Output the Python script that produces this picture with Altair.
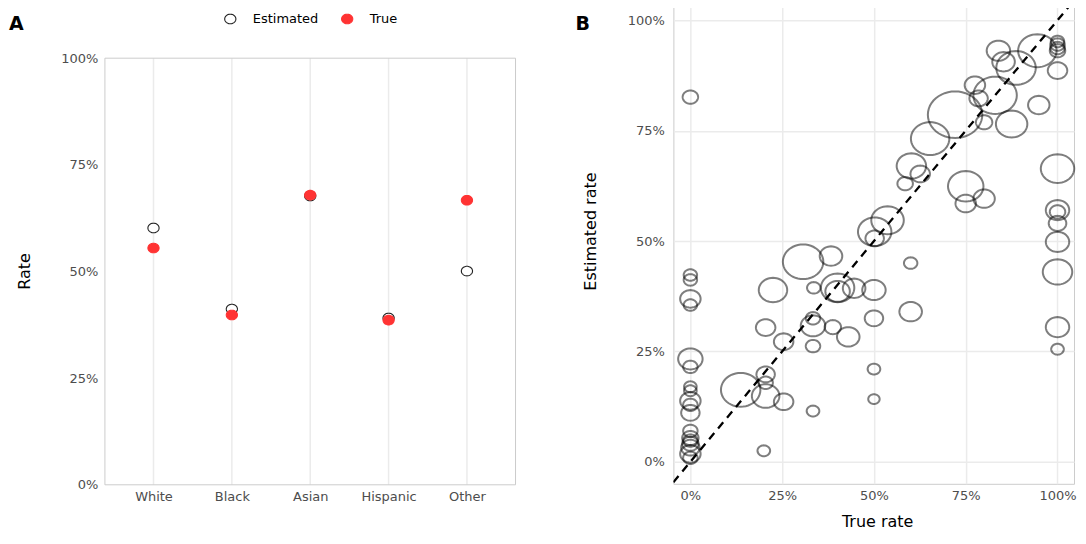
import math
import altair as alt
import pandas as pd

# ---------------- data ----------------
races = ["White", "Black", "Asian", "Hispanic", "Other"]
est_by_race = [0.602, 0.412, 0.677, 0.391, 0.501]
true_by_race = [0.555, 0.398, 0.679, 0.386, 0.667]

true_rate = [0, 0, 0, 0, 0, 0, 0, 0, 0, 0, 0, 0, 0, 0, 0, 0, 0, 0, 0,
             0.137, 0.205, 0.205, 0.205, 0.254, 0.200, 0.334, 0.500, 0.500, 1.0, 1.0,
             0.205, 0.254, 0.334, 0.334, 0.334, 0.388, 0.430, 0.307, 0.383, 0.225,
             0.336, 0.401, 0.401, 0.446, 0.500, 0.600, 0.600, 0.500, 0.602, 0.626,
             0.585, 0.750, 0.750, 0.800, 0.537, 0.502, 0.502, 1.0, 1.0, 1.0,
             1.0, 1.0, 1.0, 0.945, 1.0, 1.0, 1.0, 1.0, 1.0, 0.839,
             0.853, 0.887, 0.775, 0.830, 0.785, 0.721, 0.949, 0.800, 0.875, 0.653]
est_rate = [0.826, 0.423, 0.412, 0.369, 0.355, 0.233, 0.215, 0.170, 0.161, 0.138,
            0.129, 0.111, 0.070, 0.054, 0.048, 0.041, 0.032, 0.018, 0.009,
            0.163, 0.198, 0.179, 0.149, 0.136, 0.025, 0.115, 0.210, 0.142, 0.305, 0.255,
            0.304, 0.272, 0.262, 0.308, 0.325, 0.305, 0.283, 0.453, 0.466, 0.389,
            0.394, 0.394, 0.386, 0.393, 0.389, 0.450, 0.340, 0.325, 0.670, 0.652,
            0.630, 0.624, 0.585, 0.596, 0.547, 0.521, 0.506, 0.664, 0.570, 0.566,
            0.540, 0.498, 0.430, 0.931, 0.952, 0.945, 0.937, 0.931, 0.886, 0.931,
            0.906, 0.892, 0.853, 0.830, 0.823, 0.786, 0.808, 0.769, 0.765, 0.732]
n_people = [24, 18, 18, 42, 18, 60, 21, 16, 16, 42, 21, 34, 21, 27, 21, 27, 34, 42, 21,
            156, 34, 21, 76, 38, 16, 16, 16, 13, 55, 16,
            38, 38, 21, 60, 21, 27, 51, 164, 51, 81,
            18, 112, 60, 51, 55, 18, 51, 34, 87, 38,
            24, 126, 42, 46, 106, 112, 34, 112, 55, 24,
            31, 55, 87, 148, 18, 21, 21, 24, 38, 55,
            51, 156, 42, 189, 34, 297, 46, 27, 99, 148]

pct_ticks = [0, 0.25, 0.5, 0.75, 1.0]
xB_domain = [-0.0463, 1.0449]
yB_domain = [-0.0498, 1.0498]
diag_ends = [-0.0463, 1.0449]

# ellipse symbol (reference image is horizontally stretched)
_pts = []
for k in range(48):
    a = 2 * math.pi * k / 48
    _pts.append(f"{math.cos(a):.4f},{0.857 * math.sin(a):.4f}")
ELLIPSE = "M" + " L".join(_pts) + " Z"

FONT = "DejaVu Sans"
GRID = "#ebebeb"
BORDER = "#cccccc"

# ---------------- panel A ----------------
WA, HA = 411, 487
dfA = pd.DataFrame({
    "race": races + races,
    "type": ["Estimated"] * 5 + ["True"] * 5,
    "rate": est_by_race + true_by_race,
})

xA_axis = alt.Axis(title=None, labelAngle=0, labelAlign="center", labelBaseline="top",
                   labelPadding=6, grid=False)
xA_scale = alt.Scale(type="point", padding=0.62)
yA_scale = alt.Scale(domain=[0, HA / 427], nice=False, zero=True)

vgrid = alt.Chart(pd.DataFrame({"race": races})).mark_rule(
    color=GRID, strokeWidth=1.5).encode(
    x=alt.X("race:N", sort=races, scale=xA_scale, axis=xA_axis),
    y=alt.datum(0), y2=alt.datum(1))

borderA = alt.Chart(pd.DataFrame({"d": [0]})).mark_rect(
    fillOpacity=0, stroke=BORDER, strokeWidth=1).encode(
    x=alt.value(0), x2=alt.value(WA), y=alt.datum(1), y2=alt.datum(0))

legA = alt.Legend(title=None, orient="none", legendX=119, legendY=14,
                  direction="horizontal", symbolType=ELLIPSE, symbolSize=125,
                  symbolStrokeWidth=1.1, labelFont=FONT, labelFontSize=13,
                  labelColor="black", labelOffset=16, columnPadding=20, padding=0)

ptsA = alt.Chart(dfA).mark_point(shape=ELLIPSE, size=125, filled=True,
                                 strokeWidth=1.1, opacity=1).encode(
    x=alt.X("race:N", sort=races, scale=xA_scale, axis=xA_axis),
    y=alt.Y("rate:Q", scale=yA_scale,
            axis=alt.Axis(values=pct_ticks, format=".0%", title="Rate",
                          titleX=-80, titleY=273, titleBaseline="middle",
                          labelPadding=7)),
    fill=alt.Fill("type:N", scale=alt.Scale(domain=["Estimated", "True"],
                                            range=["#ffffff", "#ff3333"]), legend=legA),
    stroke=alt.Stroke("type:N", scale=alt.Scale(domain=["Estimated", "True"],
                                                range=["#222222", "#ff3333"]), legend=legA),
)

labA = alt.Chart(pd.DataFrame({"t": ["A"]})).mark_text(
    font=FONT, fontSize=19, fontWeight="bold", align="left",
    baseline="alphabetic", color="black").encode(
    text="t:N", x=alt.value(-96), y=alt.value(32))

panelA = alt.layer(vgrid, borderA, ptsA, labA).properties(
    width=WA, height=HA, view=alt.ViewBackground(stroke="transparent"))

# ---------------- panel B ----------------
WB, HB = 401, 486
dfB = pd.DataFrame({"true": true_rate, "est": est_rate, "n": n_people})
xB_scale = alt.Scale(domain=xB_domain, nice=False, zero=False)
yB_scale = alt.Scale(domain=yB_domain, nice=False, zero=False)

circles = alt.Chart(dfB).mark_point(shape=ELLIPSE, filled=False, color="#000000",
                                    opacity=0.5, strokeWidth=2).encode(
    x=alt.X("true:Q", scale=xB_scale,
            axis=alt.Axis(values=pct_ticks, format=".0%", title="True rate",
                          titleX=204, titleY=38, titleBaseline="middle",
                          labelPadding=6)),
    y=alt.Y("est:Q", scale=yB_scale,
            axis=alt.Axis(values=pct_ticks, format=".0%", title="Estimated rate",
                          titleX=-83, titleY=233, titleBaseline="middle",
                          labelPadding=9)),
    size=alt.Size("n:Q", scale=alt.Scale(type="linear", domain=[0, 300],
                                         range=[0, 3000], zero=True), legend=None),
)

diag = alt.Chart(pd.DataFrame({"v": diag_ends})).mark_line(
    color="black", strokeDash=[8, 6], strokeWidth=2.3, clip=True).encode(
    x=alt.X("v:Q", scale=xB_scale), y=alt.Y("v:Q", scale=yB_scale))

labB = alt.Chart(pd.DataFrame({"t": ["B"]})).mark_text(
    font=FONT, fontSize=19, fontWeight="bold", align="left",
    baseline="alphabetic", color="black").encode(
    text="t:N", x=alt.value(-98), y=alt.value(32))

panelB = alt.layer(circles, diag, labB).properties(
    width=WB, height=HB, view=alt.ViewBackground(stroke=BORDER, strokeWidth=1))

chart = alt.hconcat(panelA, panelB, spacing=58).properties(
    padding={"left": 0, "top": -11, "right": -1, "bottom": 0}
).configure_axis(
    labelFont=FONT, labelFontSize=13, labelColor="#4d4d4d",
    titleFont=FONT, titleFontSize=16, titleFontWeight="normal", titleColor="black",
    domain=False, ticks=False, gridColor=GRID, gridWidth=1.5,
).configure_view(stroke="transparent")

chart.save("out.html", embed_options={"renderer": "svg", "actions": False})
